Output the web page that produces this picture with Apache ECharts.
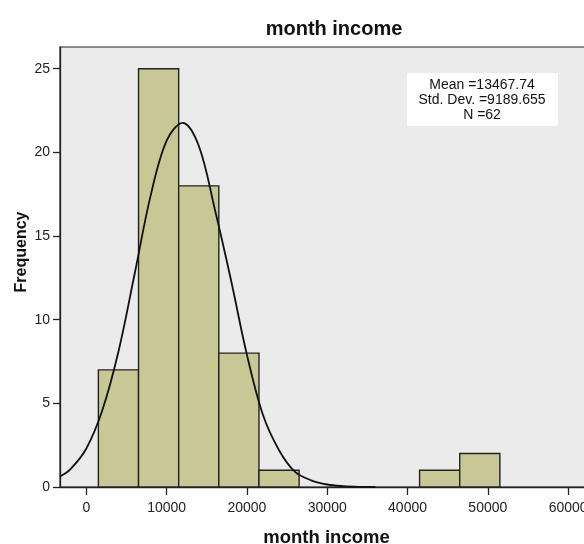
<!DOCTYPE html>
<html>
<head>
<meta charset="utf-8">
<script src="https://cdn.jsdelivr.net/npm/echarts@6/dist/echarts.min.js"></script>
<style>html,body{margin:0;padding:0;background:#fff}#c{width:584px;height:544px}</style>
</head>
<body>
<div id="c"></div>
<script>
// ---- data ----
const titleText = 'month income';
const xName = 'month income';
const yName = 'Frequency';
const binWidth = 5000;
const binStarts = [1500, 6500, 11500, 16500, 21500, 26500, 31500, 36500, 41500, 46500];
const binCounts = [7, 25, 18, 8, 1, 0, 0, 0, 1, 2];
const curveX = [-3280, -2000, 0, 2000, 4000, 6000, 8000, 10000, 12000, 14000, 16000, 18000, 20000, 22000, 24000, 26000, 28000, 30000, 32000, 34000, 36000];
const curveY = [0.63, 1.05, 2.3, 4.6, 8.1, 12.7, 17.4, 20.7, 21.77, 20.4, 16.6, 12.4, 7.9, 4.3, 2.2, 0.9, 0.4, 0.15, 0.05, 0.01, 0];
const xTicks = [0, 10000, 20000, 30000, 40000, 50000, 60000];
const yTicks = [0, 5, 10, 15, 20, 25];
const statLines = ['Mean =13467.74', 'Std. Dev. =9189.655', 'N =62'];

// ---- chart ----
const font = '"Liberation Sans", Arial, sans-serif';
const chart = echarts.init(document.getElementById('c'), null, {renderer: 'canvas'});
const barData = binStarts.map((s, i) => [s, s + binWidth, binCounts[i]]).filter(d => d[2] > 0);
const curveData = curveX.map((x, i) => [x, curveY[i]]);

chart.setOption({
  animation: false,
  backgroundColor: '#ffffff',
  title: {
    text: titleText,
    left: 329, top: 14, textAlign: 'center',
    textStyle: {fontFamily: font, fontSize: 20, fontWeight: 'bold', color: '#111'}
  },
  grid: {
    left: 60, top: 47, bottom: 57, right: -25,
    containLabel: false, outerBoundsMode: 'none',
    show: true, backgroundColor: '#EBEBEB', borderColor: '#222', borderWidth: 1.2
  },
  xAxis: {
    type: 'value', min: -3280, max: 65090,
    name: xName, nameLocation: 'middle', nameGap: 41, nameMoveOverlap: false,
    nameTextStyle: {fontFamily: font, fontSize: 18.5, fontWeight: 'bold', color: '#111', padding: [0, 16, 0, 0]},
    axisLine: {show: true, onZero: false, lineStyle: {color: '#222', width: 1.3}},
    axisTick: {show: true, length: 8, lineStyle: {color: '#222', width: 1.3}, customValues: xTicks},
    axisLabel: {fontFamily: font, fontSize: 14, color: '#222', margin: 14, customValues: xTicks,
      formatter: v => String(v)},
    splitLine: {show: false}
  },
  yAxis: {
    type: 'value', min: 0, max: 26.3,
    name: yName, nameLocation: 'middle', nameGap: 30, nameMoveOverlap: false,
    nameTextStyle: {fontFamily: font, fontSize: 16, fontWeight: 'bold', color: '#111', padding: [0, 0, 0, 30]},
    axisLine: {show: true, onZero: false, lineStyle: {color: '#222', width: 1.3}},
    axisTick: {show: true, length: 7, lineStyle: {color: '#222', width: 1.3}, customValues: yTicks},
    axisLabel: {fontFamily: font, fontSize: 14, color: '#222', margin: 10, customValues: yTicks,
      formatter: v => String(v)},
    splitLine: {show: false}
  },
  series: [
    {
      type: 'custom',
      data: barData,
      renderItem: function (params, api) {
        const p0 = api.coord([api.value(0), api.value(2)]);
        const p1 = api.coord([api.value(1), 0]);
        return {
          type: 'rect',
          shape: {x: p0[0], y: p0[1], width: p1[0] - p0[0], height: p1[1] - p0[1]},
          style: {fill: '#C8C896', stroke: '#222', lineWidth: 1.4}
        };
      },
      z: 2
    },
    {
      type: 'line',
      data: curveData,
      smooth: 0.35,
      showSymbol: false,
      lineStyle: {color: '#111', width: 1.8},
      z: 3
    }
  ],
  graphic: [
    {
      type: 'rect', left: 407, top: 73, z: 10,
      shape: {width: 151, height: 53},
      style: {fill: '#ffffff', stroke: null}
    },
    {
      type: 'text', z: 11, x: 482, y: 78,
      style: {
        text: statLines.join('\n'), fontFamily: font, fontSize: 14, lineHeight: 15,
        align: 'center', verticalAlign: 'top', fill: '#111'
      }
    }
  ]
});
</script>
</body>
</html>
